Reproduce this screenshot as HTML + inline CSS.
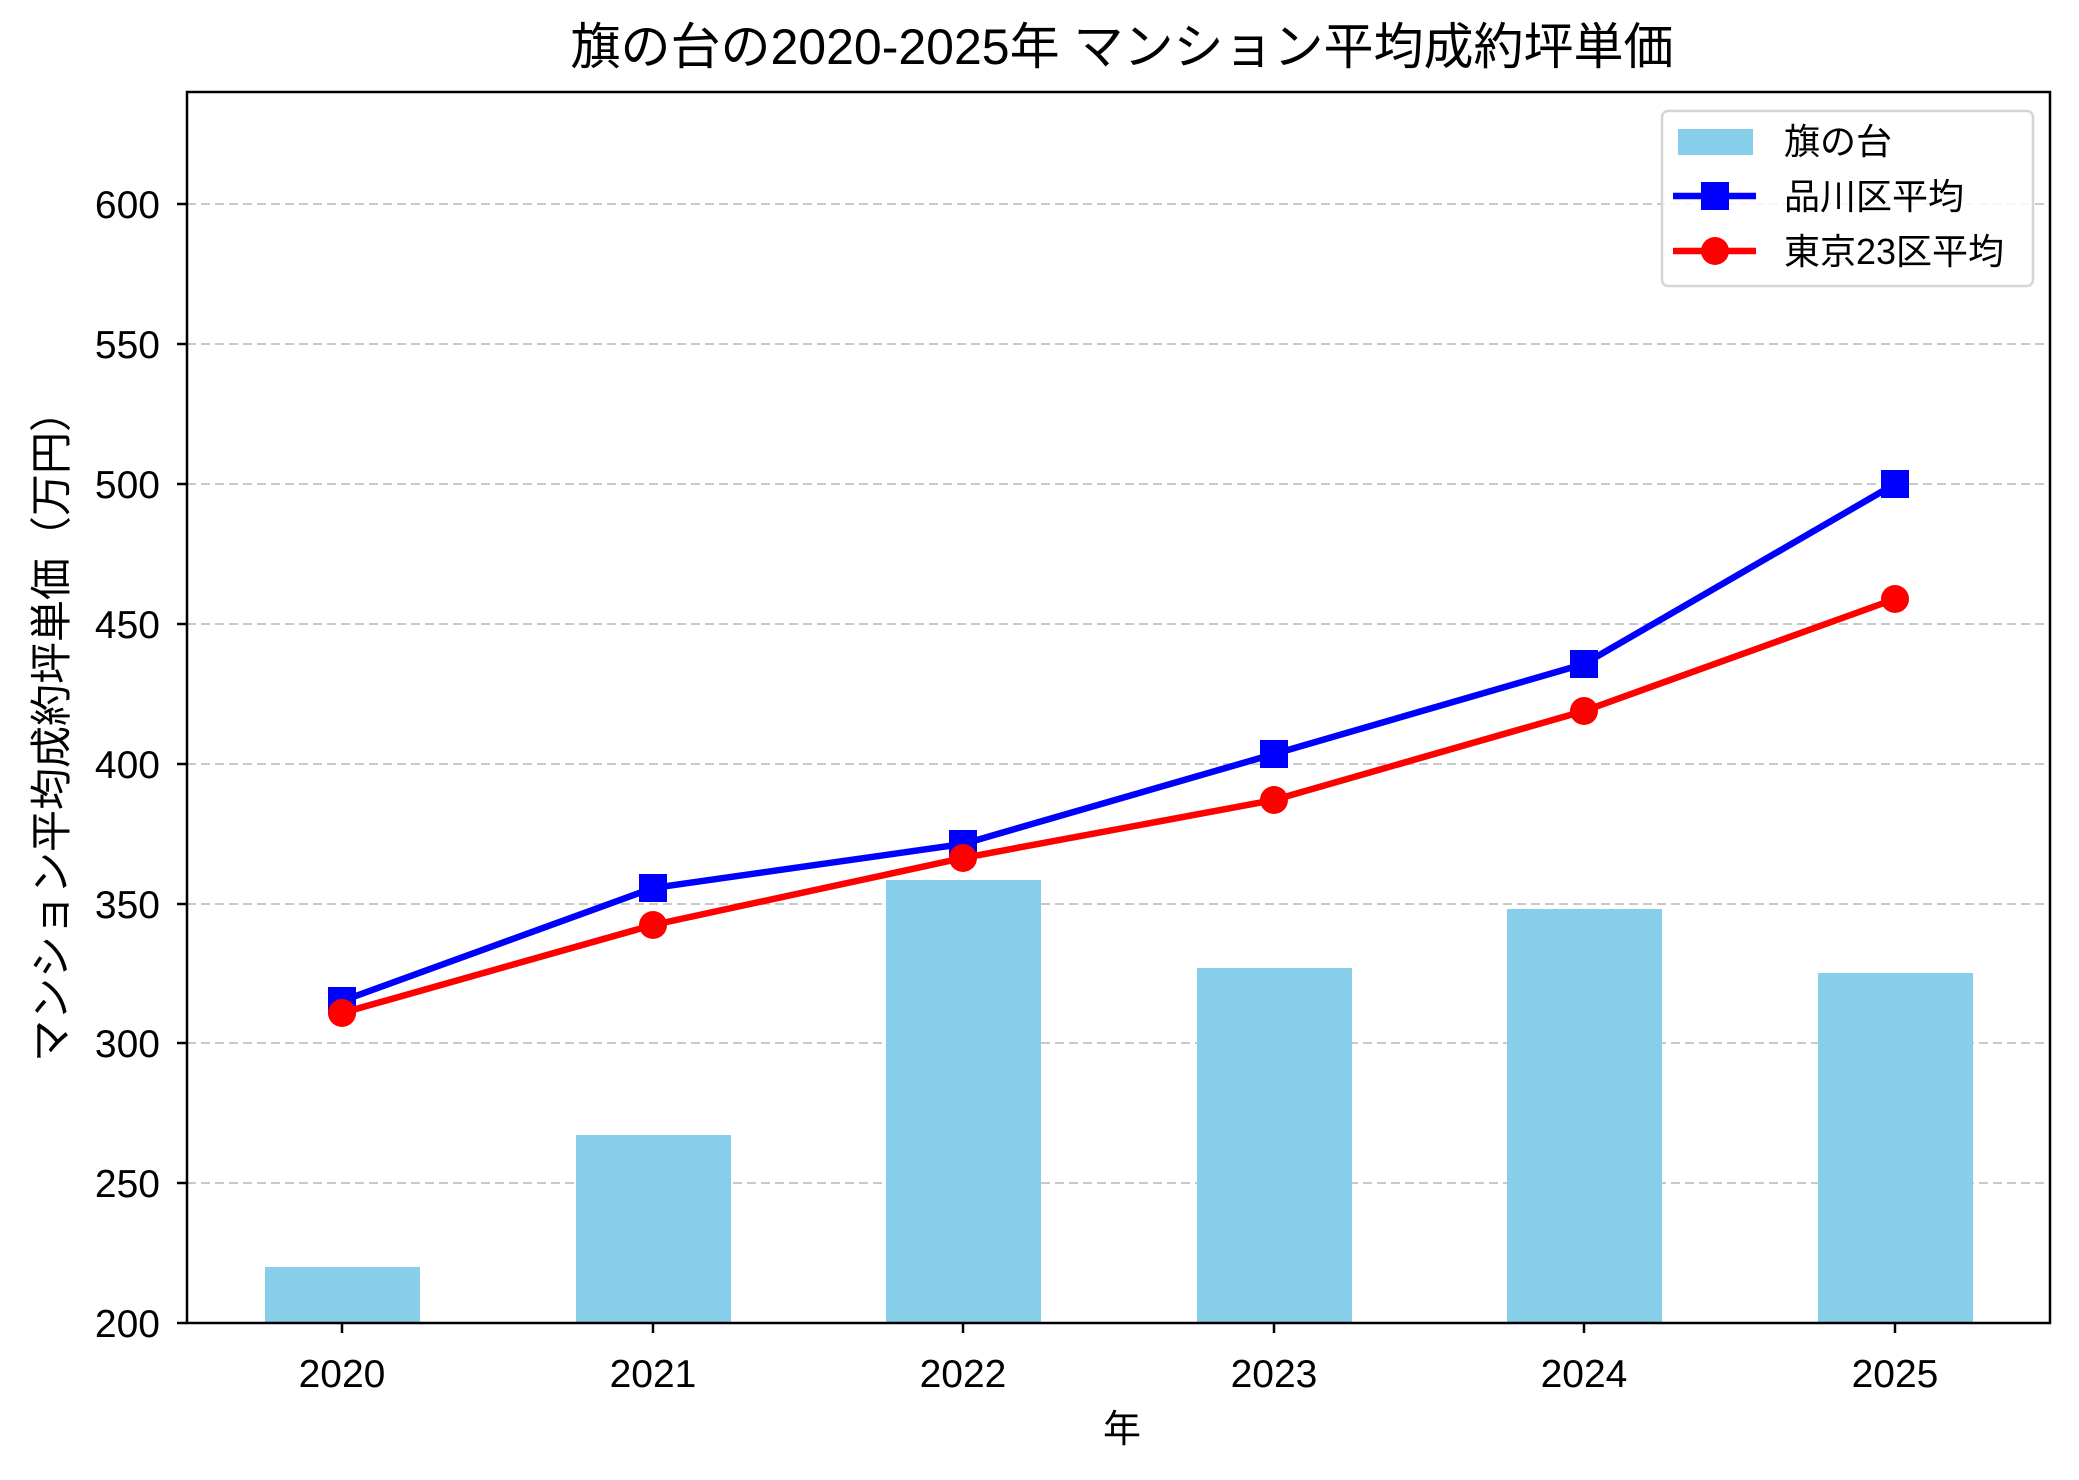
<!DOCTYPE html>
<html><head><meta charset="utf-8"><style>
body{margin:0;background:#fff}
svg text{font-family:"Liberation Sans","Noto Sans CJK JP",sans-serif;fill:#000}
</style></head><body>
<svg width="2079" height="1475" xmlns="http://www.w3.org/2000/svg">
<rect width="2079" height="1475" fill="#fff"/>
<text x="1122" y="64" font-size="50" text-anchor="middle">旗の台の2020-2025年 マンション平均成約坪単価</text>
<g stroke="#c8c8c8" stroke-width="2" stroke-dasharray="9,5">
<line x1="187" x2="2050" y1="1183" y2="1183"/>
<line x1="187" x2="2050" y1="1043" y2="1043"/>
<line x1="187" x2="2050" y1="904" y2="904"/>
<line x1="187" x2="2050" y1="764" y2="764"/>
<line x1="187" x2="2050" y1="624" y2="624"/>
<line x1="187" x2="2050" y1="484" y2="484"/>
<line x1="187" x2="2050" y1="344" y2="344"/>
<line x1="187" x2="2050" y1="204" y2="204"/>
</g>
<g fill="#87ceeb">
<rect x="265" y="1267" width="155" height="56"/>
<rect x="576" y="1135" width="155" height="188"/>
<rect x="886" y="880" width="155" height="443"/>
<rect x="1197" y="968" width="155" height="355"/>
<rect x="1507" y="909" width="155" height="414"/>
<rect x="1818" y="973" width="155" height="350"/>
</g>
<polyline fill="none" stroke="#0000ff" stroke-width="6.5" points="342,1001 653,888 963,844 1274,754 1584,664 1895,484"/>
<g fill="#0000ff">
<rect x="328" y="987" width="28" height="28"/><rect x="639" y="874" width="28" height="28"/><rect x="949" y="830" width="28" height="28"/><rect x="1260" y="740" width="28" height="28"/><rect x="1570" y="650" width="28" height="28"/><rect x="1881" y="470" width="28" height="28"/>
</g>
<polyline fill="none" stroke="#ff0000" stroke-width="6.5" points="342,1013 653,925 963,858 1274,800 1584,711 1895,599"/>
<g fill="#ff0000">
<circle cx="342" cy="1013" r="14"/><circle cx="653" cy="925" r="14"/><circle cx="963" cy="858" r="14"/><circle cx="1274" cy="800" r="14"/><circle cx="1584" cy="711" r="14"/><circle cx="1895" cy="599" r="14"/>
</g>
<rect x="187" y="92" width="1863" height="1231" fill="none" stroke="#000" stroke-width="2.5"/>
<g stroke="#000" stroke-width="2.5">
<line x1="177" x2="187" y1="1323" y2="1323"/><line x1="177" x2="187" y1="1183" y2="1183"/><line x1="177" x2="187" y1="1043" y2="1043"/><line x1="177" x2="187" y1="904" y2="904"/><line x1="177" x2="187" y1="764" y2="764"/><line x1="177" x2="187" y1="624" y2="624"/><line x1="177" x2="187" y1="484" y2="484"/><line x1="177" x2="187" y1="344" y2="344"/><line x1="177" x2="187" y1="204" y2="204"/>
<line x1="342" x2="342" y1="1323" y2="1333"/><line x1="653" x2="653" y1="1323" y2="1333"/><line x1="963" x2="963" y1="1323" y2="1333"/><line x1="1274" x2="1274" y1="1323" y2="1333"/><line x1="1584" x2="1584" y1="1323" y2="1333"/><line x1="1895" x2="1895" y1="1323" y2="1333"/>
</g>
<g font-size="39" text-anchor="end">
<text x="160" y="1337">200</text><text x="160" y="1197">250</text><text x="160" y="1057">300</text><text x="160" y="918">350</text><text x="160" y="778">400</text><text x="160" y="638">450</text><text x="160" y="498">500</text><text x="160" y="358">550</text><text x="160" y="218">600</text>
</g>
<g font-size="39" text-anchor="middle">
<text x="342" y="1387">2020</text><text x="653" y="1387">2021</text><text x="963" y="1387">2022</text><text x="1274" y="1387">2023</text><text x="1584" y="1387">2024</text><text x="1895" y="1387">2025</text>
</g>
<text x="1122" y="1442" font-size="38" text-anchor="middle">年</text>
<text transform="translate(66,726) rotate(-90)" font-size="42" text-anchor="middle">マンション平均成約坪単価（万円）</text>
<rect x="1662" y="111" width="371" height="175" rx="6" fill="#fff" fill-opacity="0.85" stroke="#d5d5d5" stroke-width="2.5"/>
<rect x="1678" y="129" width="75" height="26" fill="#87ceeb"/>
<line x1="1673" x2="1756" y1="196" y2="196" stroke="#0000ff" stroke-width="6.5"/>
<rect x="1701" y="182" width="28" height="28" fill="#0000ff"/>
<line x1="1673" x2="1756" y1="251" y2="251" stroke="#ff0000" stroke-width="6.5"/>
<circle cx="1715" cy="251" r="14" fill="#ff0000"/>
<g font-size="36">
<text x="1784" y="154">旗の台</text>
<text x="1784" y="209">品川区平均</text>
<text x="1784" y="264">東京23区平均</text>
</g>
</svg>
</body></html>
